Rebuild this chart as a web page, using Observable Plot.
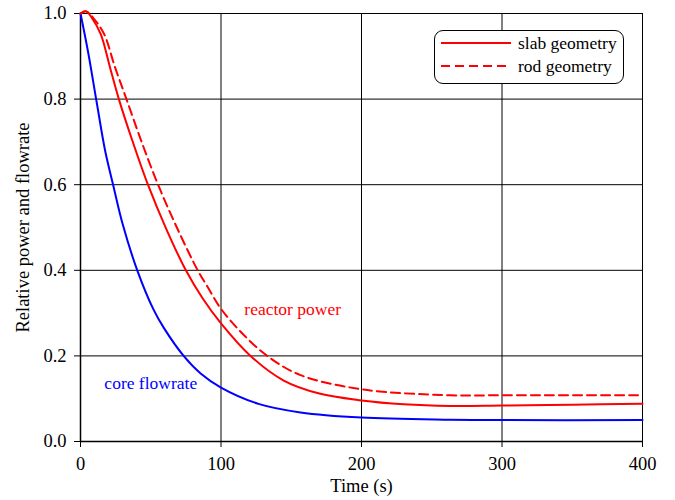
<!DOCTYPE html>
<html><head><meta charset="utf-8">
<script src="https://cdn.jsdelivr.net/npm/d3@7"></script>
<script src="https://cdn.jsdelivr.net/npm/@observablehq/plot@0.6"></script>
<style>
body{margin:0;background:#fff;}
#wrap{position:relative;width:675px;height:500px;font-family:"Liberation Serif","Times New Roman",serif;}
#wrap svg text{font-family:"Liberation Serif","Times New Roman",serif;font-variant:normal;}
#legend{position:absolute;left:434px;top:30px;width:190px;height:54px;border:1px solid #000;border-radius:9px;background:#fff;box-sizing:border-box;font-size:17.5px;}
.row{position:absolute;left:6px;height:20px;display:flex;align-items:center;}
.row span{margin-left:7px;color:#000;}
</style>
</head><body>
<div id="wrap"><div id="legend">
<div class="row" style="top:2px"><svg width="70" height="6"><line x1="0" x2="70" y1="3" y2="3" stroke="#ff0000" stroke-width="2"/></svg><span>slab geometry</span></div>
<div class="row" style="top:25px"><svg width="70" height="6"><line x1="0" x2="70" y1="3" y2="3" stroke="#ff0000" stroke-width="2" stroke-dasharray="9,5"/></svg><span>rod geometry</span></div>
</div></div>
<script>
// core flowrate
const flowT = [0,5.4,11.4,17.5,23.2,30,40.4,52,59.2,73.4,85.5,100,126.7,156.6,200,263,300,400];
const flowV = [1.0,0.91,0.795,0.68,0.6,0.508,0.4,0.308,0.266,0.2,0.159,0.126,0.088,0.068,0.056,0.051,0.05,0.05];
// reactor power, slab geometry
const slabT = [0,4,8,14.4,21,27.3,37,48,61,75,87,100,121,144.3,170,200,230,263,300,350,400];
const slabV = [1.0,1.005,0.99,0.952,0.874,0.8,0.702,0.6,0.497,0.4,0.334,0.276,0.2,0.143,0.112,0.096,0.087,0.083,0.084,0.086,0.088];
// reactor power, rod geometry
const rodT = [0,4,9,16.8,24.6,32.7,43.5,55.2,69,83.4,90.3,100,115,132.9,156.6,200,263,300,400];
const rodV = [1.0,1.005,0.99,0.952,0.874,0.8,0.7,0.6,0.497,0.4,0.362,0.31,0.253,0.2,0.155,0.122,0.108,0.108,0.108];
const xTicks = [0,100,200,300,400];
const yTicks = [0,0.2,0.4,0.6,0.8,1.0];
const labelText = ["reactor power","core flowrate"];
const labelT = [151,50];
const labelV = [0.308,0.136];
const labelColor = ["#ff0000","#0000ff"];

const mk = (T,V) => T.map((t,i)=>({t, v:V[i]}));
const flow = mk(flowT, flowV), slab = mk(slabT, slabV), rod = mk(rodT, rodV);
const labels = labelText.map((s,i)=>({s, t:labelT[i], v:labelV[i], c:labelColor[i]}));
const FF = '"Liberation Serif","Times New Roman",serif';

const chart = Plot.plot({
  width: 675, height: 500,
  marginLeft: 80, marginRight: 33, marginTop: 13, marginBottom: 59,
  style: {fontFamily: FF, fontSize: "18px", color: "#000", background: "#fff"},
  x: {domain: [0,400]},
  y: {domain: [0,1]},
  marks: [
    Plot.gridX(xTicks, {stroke: "#000", strokeOpacity: 1, strokeWidth: 1}),
    Plot.gridY(yTicks, {stroke: "#000", strokeOpacity: 1, strokeWidth: 1}),
    Plot.axisX({ticks: xTicks, tickSize: 6, tickPadding: 9, fontSize: 18.5, fontFamily: FF, fontVariant: "normal", label: "Time (s)", labelAnchor: "center", labelArrow: "none", labelOffset: 50}),
    Plot.axisY({ticks: yTicks, tickFormat: d3.format(".1f"), tickSize: 6, tickPadding: 8, fontSize: 18.5, fontFamily: FF, fontVariant: "normal", label: "Relative power and flowrate", labelAnchor: "center", labelArrow: "none", labelOffset: 65}),
    Plot.ruleX([0], {stroke: "#000", strokeWidth: 1.5}),
    Plot.ruleY([0], {stroke: "#000", strokeWidth: 1.5}),
    Plot.line(flow, {x: "t", y: "v", stroke: "#0000ff", strokeWidth: 2, curve: "catmull-rom"}),
    Plot.line(slab, {x: "t", y: "v", stroke: "#ff0000", strokeWidth: 2, curve: "catmull-rom"}),
    Plot.line(rod, {x: "t", y: "v", stroke: "#ff0000", strokeWidth: 2, strokeDasharray: "9,5", curve: "catmull-rom"}),
    Plot.text(labels, {x: "t", y: "v", text: "s", fill: "c", fontSize: 17.5, fontFamily: FF})
  ]
});
document.getElementById("wrap").prepend(chart);
</script>
</body></html>
